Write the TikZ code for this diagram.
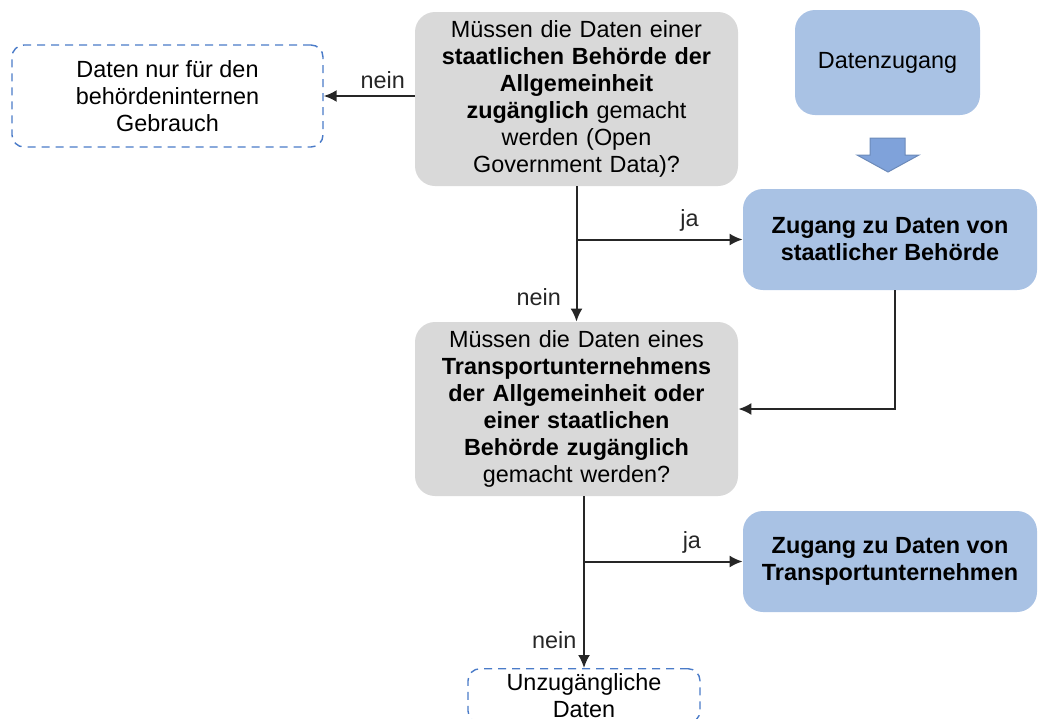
\documentclass[tikz,border=0pt]{standalone}
\usepackage{fontspec}
\setmainfont{Liberation Sans}
\usepackage{tikz}
\usetikzlibrary{shapes,arrows.meta,calc}
\definecolor{fragegrau}{HTML}{D9D9D9}
\definecolor{zugangblau}{HTML}{A9C2E4}
\definecolor{pfeilblau}{HTML}{7FA2DA}
\definecolor{randblau}{HTML}{4A7BC8}
\newcommand{\knotenfont}{\fontsize{11.7}{13.5}\selectfont}
\tikzstyle{line} = [draw, line width=1pt, black!85, -{Latex[length=6.5pt,width=6pt]}]
\tikzstyle{frage} = [rectangle, fill=fragegrau, rounded corners=10pt,
                     text width=150pt, align=center, inner sep=0pt,
                     minimum width=161.5pt, minimum height=87pt]
\tikzstyle{zugang} = [rectangle, fill=zugangblau, rounded corners=10pt,
                      align=center, inner sep=0pt, font=\knotenfont\bfseries]
\tikzstyle{ende} = [rectangle, draw=randblau, dash pattern=on 4pt off 3pt,
                    line width=0.7pt, rounded corners=6pt, align=center]

\begin{document}
\begin{tikzpicture}[x=0.5pt, y=-0.5pt, auto, every node/.style={font=\knotenfont}]
\useasboundingbox (0,0) rectangle (1038,718);

\node [frage] (q1) at (576.5,99) {M\"ussen die Daten einer\\
  \textbf{staatlichen Beh\"orde der}\\ \textbf{Allgemeinheit}\\
  \textbf{zug\"anglich} gemacht\\ werden (Open\\ Government Data)?};
\node [ende, minimum width=155.5pt, minimum height=51pt] (intern) at (167.5,96)
  {Daten nur f\"ur den\\ beh\"ordeninternen\\ Gebrauch};
\node [zugang, minimum width=92.5pt, minimum height=52.5pt] (datenz) at (887.5,62.5)
  {\mdseries Datenzugang};
\node [zugang, minimum width=147pt, minimum height=50.5pt] (zbeh) at (890,239.5)
  {Zugang zu Daten von\\ staatlicher Beh\"orde};
\node [frage] (q2) at (576.5,409) {M\"ussen die Daten eines\\
  \textbf{Transportunternehmens}\\ \textbf{der Allgemeinheit oder}\\
  \textbf{einer staatlichen}\\ \textbf{Beh\"orde zug\"anglich}\\ gemacht werden?};
\node [zugang, minimum width=147pt, minimum height=50.5pt] (ztu) at (890,561.5)
  {Zugang zu Daten von\\ Transportunternehmen};
\node [ende, minimum width=116pt, inner ysep=2.5pt, anchor=north] (unzug) at (584,668)
  {Unzug\"angliche\\ Daten};

% block arrow under Datenzugang
\filldraw [fill=pfeilblau, draw=pfeilblau!85!black, line width=0.5pt]
  (870,138) -- (905,138) -- (905,155) -- (919,155) -- (888,172)
  -- (857,155) -- (870,155) -- cycle;

\path [line] (q1.west |- intern.east) -- node [above, pos=0.35] {nein} (intern.east);
\path [line] (q1.south) -- node [left, pos=0.82, xshift=-4pt] {nein} (q2.north);
\path [line] (q1.south |- zbeh.west) -- node [above, pos=0.68] {ja} (zbeh.west);
\path [line] (zbeh.south -| 895,0) |- (q2.east);
\path [line] (q2.south -| unzug.north) -- node [left, pos=0.84] {nein} (unzug.north);
\path [line] (unzug.north |- ztu.west) -- node [above, pos=0.68] {ja} (ztu.west);

\end{tikzpicture}
\end{document}
